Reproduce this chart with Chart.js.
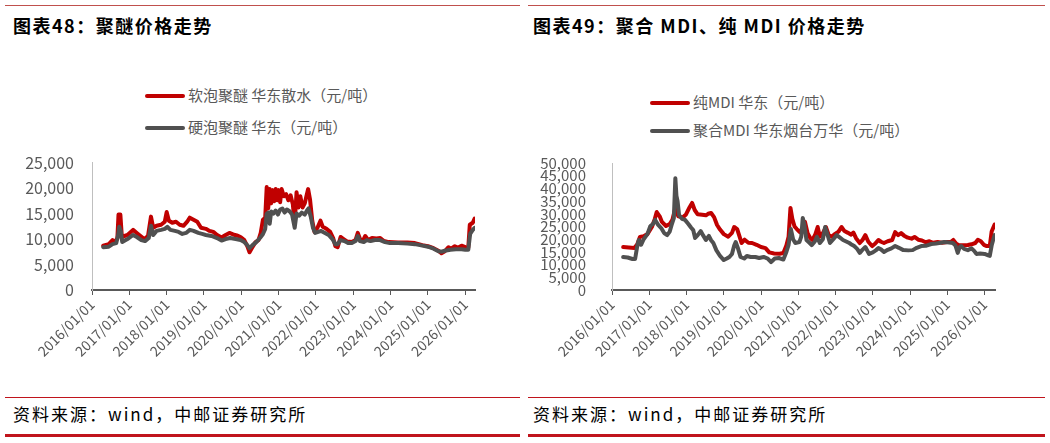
<!DOCTYPE html>
<html>
<head>
<meta charset="utf-8">
<script src="https://cdn.jsdelivr.net/npm/chart.js@4"></script>
<style>
  body { margin: 0; background: #fff; }
  #page { position: relative; width: 1050px; height: 443px; overflow: hidden; font-family: "Noto Sans CJK SC", "Noto Sans", sans-serif; }
  .rule { position: absolute; background: #c0504d; }
  .title { position: absolute; top: 12px; font-size: 18px; letter-spacing: 1.5px; font-weight: bold; color: #000; white-space: nowrap; }
  .source { position: absolute; top: 401px; font-size: 17px; letter-spacing: 2px; color: #000; white-space: nowrap; }
  .legend { position: absolute; font-size: 15px; color: #595959; }
  .legend div { position: absolute; white-space: nowrap; height: 20px; line-height: 20px; }
  .legend span { display: inline-block; width: 40px; height: 4px; border-radius: 2px; vertical-align: middle; margin-right: 3px; position: relative; top: -1px; }
  canvas { position: absolute; }
</style>
</head>
<body>
<div id="page">
  <div class="rule" style="left:5px;top:5px;width:515px;height:1px;"></div>
  <div class="rule" style="left:528px;top:5px;width:517px;height:1px;"></div>
  <div class="title" style="left:13px;">图表48：聚醚价格走势</div>
  <div class="title" style="left:533px;">图表49：聚合 MDI、纯 MDI 价格走势</div>

  <div class="legend" id="legendLeft" style="left:145px;top:0;"></div>
  <div class="legend" id="legendRight" style="left:650px;top:0;"></div>

  <div style="position:absolute;left:0;top:143px;width:500px;height:247px;"><canvas id="polyetherChart"></canvas></div>
  <div style="position:absolute;left:525px;top:136px;width:500px;height:254px;"><canvas id="mdiChart"></canvas></div>

  <div class="rule" style="left:5px;top:397px;width:515px;height:1px;background:#c0141c;"></div>
  <div class="rule" style="left:528px;top:397px;width:517px;height:1px;background:#c0141c;"></div>
  <div class="source" style="left:13px;">资料来源：wind，中邮证券研究所</div>
  <div class="source" style="left:533px;">资料来源：wind，中邮证券研究所</div>
  <div class="rule" style="left:5px;top:434px;width:515px;height:3px;background:#c0141c;"></div>
  <div class="rule" style="left:528px;top:434px;width:517px;height:3px;background:#c0141c;"></div>
</div>

<script>
// 图表48 数据
const polyetherNames = ['软泡聚醚 华东散水（元/吨）', '硬泡聚醚 华东（元/吨）'];
const softDates = [2016.30, 2016.45, 2016.55, 2016.62, 2016.68, 2016.71, 2016.76, 2016.80, 2016.95, 2017.10,
  2017.20, 2017.30, 2017.40, 2017.50, 2017.58, 2017.64, 2017.73, 2017.85, 2017.95, 2018.00,
  2018.06, 2018.15, 2018.25, 2018.35, 2018.45, 2018.55, 2018.62, 2018.72, 2018.82, 2018.92,
  2019.05, 2019.15, 2019.25, 2019.35, 2019.47, 2019.58, 2019.68, 2019.78, 2019.88, 2019.98,
  2020.08, 2020.16, 2020.22, 2020.28, 2020.38, 2020.46, 2020.52, 2020.58, 2020.64, 2020.68,
  2020.72, 2020.76, 2020.80, 2020.84, 2020.88, 2020.92, 2020.96, 2021.00, 2021.04, 2021.08,
  2021.14, 2021.20, 2021.26, 2021.32, 2021.38, 2021.43, 2021.48, 2021.53, 2021.58, 2021.64,
  2021.70, 2021.75, 2021.79, 2021.84, 2021.90, 2021.96, 2022.04, 2022.12, 2022.18, 2022.28,
  2022.38, 2022.46, 2022.52, 2022.58, 2022.66, 2022.74, 2022.84, 2022.96, 2023.06, 2023.12,
  2023.18, 2023.26, 2023.32, 2023.40, 2023.50, 2023.62, 2023.72, 2023.82, 2023.95, 2024.20,
  2024.45, 2024.65, 2024.85, 2025.00, 2025.15, 2025.28, 2025.36, 2025.45, 2025.55, 2025.62,
  2025.72, 2025.80, 2025.90, 2026.00, 2026.08, 2026.12, 2026.20, 2026.25];
const softValues = [8700, 9000, 9800, 9400, 10200, 14800, 14800, 10400, 10800, 11800,
  11200, 10600, 10000, 10600, 14400, 12200, 12600, 12800, 13400, 15300,
  13600, 13200, 13400, 12800, 12600, 13400, 14200, 13800, 13400, 12200,
  12000, 11600, 11400, 10800, 10300, 10800, 11200, 10900, 10700, 10400,
  9800, 8600, 7400, 8200, 9400, 9800, 11200, 13800, 14200, 20200,
  16000, 19800, 17000, 19600, 17400, 19800, 17600, 19600, 17200, 19800,
  18400, 18800, 17600, 18600, 16800, 13000, 19200, 16200, 18400, 16200,
  17000, 18600, 19800, 17800, 13600, 11400, 12200, 13600, 12400, 12000,
  11400, 10200, 8600, 8400, 10400, 10000, 9500, 9400, 9800, 11200,
  10000, 9700, 10600, 9800, 10200, 10100, 10200, 9600, 9400, 9300,
  9300, 9200, 8800, 8600, 8200, 7700, 7200, 7600, 8400, 8100,
  8600, 8300, 8700, 8400, 8300, 12800, 13200, 14000];
const hardDates = [2016.30, 2016.45, 2016.55, 2016.65, 2016.70, 2016.73, 2016.77, 2016.81, 2016.95, 2017.10,
  2017.20, 2017.32, 2017.42, 2017.52, 2017.58, 2017.64, 2017.73, 2017.85, 2017.95, 2018.02,
  2018.10, 2018.22, 2018.32, 2018.42, 2018.52, 2018.62, 2018.72, 2018.85, 2018.95, 2019.05,
  2019.20, 2019.35, 2019.47, 2019.58, 2019.70, 2019.85, 2019.98, 2020.08, 2020.16, 2020.22,
  2020.30, 2020.40, 2020.50, 2020.58, 2020.64, 2020.68, 2020.72, 2020.76, 2020.80, 2020.86,
  2020.92, 2020.98, 2021.04, 2021.10, 2021.16, 2021.22, 2021.30, 2021.36, 2021.43, 2021.48,
  2021.55, 2021.62, 2021.70, 2021.76, 2021.80, 2021.86, 2021.92, 2021.98, 2022.06, 2022.14,
  2022.24, 2022.34, 2022.44, 2022.52, 2022.58, 2022.66, 2022.76, 2022.86, 2022.96, 2023.06,
  2023.12, 2023.18, 2023.28, 2023.36, 2023.46, 2023.58, 2023.72, 2023.85, 2023.98, 2024.20,
  2024.45, 2024.65, 2024.85, 2025.00, 2025.15, 2025.28, 2025.36, 2025.45, 2025.60, 2025.75,
  2025.90, 2026.00, 2026.08, 2026.13, 2026.20, 2026.25];
const hardValues = [8400, 8500, 9000, 9200, 10800, 12400, 11600, 9400, 10000, 10800,
  10400, 9800, 9600, 10200, 12600, 10800, 11600, 11800, 12000, 12400,
  11800, 11600, 11400, 11000, 11200, 11800, 11600, 11200, 11000, 10800,
  10600, 10200, 9700, 10000, 10200, 10000, 9800, 9400, 8800, 8200,
  8800, 9400, 10200, 11000, 12000, 15000, 15200, 13000, 15400, 15000,
  15600, 14800, 15800, 16000, 15200, 15800, 15400, 14800, 12200, 15000,
  14600, 15200, 14800, 15600, 16000, 14400, 12200, 11200, 11400, 11600,
  11200, 10800, 10000, 9000, 9000, 9800, 9600, 9200, 9200, 9600,
  10600, 9600, 9400, 9800, 9600, 9800, 9800, 9400, 9200, 9200,
  9100, 9000, 8700, 8500, 8100, 7600, 7500, 7700, 7900, 8000,
  8000, 7900, 7900, 11000, 11800, 12200];

// 图表49 数据
const mdiNames = ['纯MDI 华东（元/吨）', '聚合MDI 华东烟台万华（元/吨）'];
const pureDates = [2016.30, 2016.45, 2016.60, 2016.68, 2016.75, 2016.85, 2016.95, 2017.07, 2017.15, 2017.20,
  2017.28, 2017.34, 2017.45, 2017.55, 2017.62, 2017.70, 2017.78, 2017.90, 2017.98, 2018.08,
  2018.15, 2018.22, 2018.30, 2018.42, 2018.52, 2018.58, 2018.66, 2018.74, 2018.82, 2018.90,
  2019.00, 2019.12, 2019.22, 2019.28, 2019.36, 2019.42, 2019.48, 2019.56, 2019.66, 2019.76,
  2019.88, 2020.00, 2020.12, 2020.22, 2020.35, 2020.50, 2020.60, 2020.68, 2020.74, 2020.79,
  2020.84, 2020.90, 2020.96, 2021.04, 2021.12, 2021.18, 2021.25, 2021.32, 2021.38, 2021.46,
  2021.52, 2021.58, 2021.66, 2021.74, 2021.82, 2021.90, 2021.98, 2022.08, 2022.16, 2022.24,
  2022.32, 2022.42, 2022.48, 2022.55, 2022.65, 2022.72, 2022.80, 2022.88, 2022.98, 2023.06,
  2023.15, 2023.22, 2023.30, 2023.40, 2023.52, 2023.60, 2023.68, 2023.76, 2023.84, 2023.94,
  2024.04, 2024.12, 2024.22, 2024.32, 2024.42, 2024.52, 2024.62, 2024.74, 2024.86, 2025.00,
  2025.10, 2025.16, 2025.24, 2025.30, 2025.42, 2025.55, 2025.65, 2025.75, 2025.82, 2025.90,
  2025.98, 2026.06, 2026.14, 2026.19, 2026.23, 2026.27];
const pureValues = [16900, 16700, 16500, 18000, 20900, 21200, 22000, 24800, 28000, 30700,
  29000, 26800, 25200, 26000, 27600, 32300, 29000, 28600, 29600, 32500,
  34300, 31500, 29800, 29600, 29400, 30000, 30300, 28700, 25600, 23800,
  22000, 21000, 22500, 24800, 24000, 21200, 18500, 19800, 18600, 18500,
  17800, 16900, 16500, 14800, 14400, 14300, 14600, 17500, 21000, 32300,
  28000, 25000, 24000, 22800, 24500, 26800, 22400, 20500, 19700, 22000,
  24800, 21000, 22400, 24800, 21500, 21000, 22000, 23000, 24800, 23200,
  22600, 21800, 22600, 20400, 18500, 19600, 21600, 19000, 17300, 18200,
  19700, 19000, 18500, 19200, 19700, 22800, 21600, 22400, 21400, 20600,
  20200, 20900, 19800, 19500, 18800, 19200, 18600, 18900, 18600, 18900,
  19000, 19700, 18200, 17700, 17600, 17700, 18000, 18500, 19800, 19200,
  17800, 17300, 17300, 23000, 24400, 25800];
const polyDates = [2016.30, 2016.42, 2016.55, 2016.62, 2016.68, 2016.72, 2016.78, 2016.85, 2016.95, 2017.03,
  2017.10, 2017.16, 2017.24, 2017.32, 2017.40, 2017.48, 2017.55, 2017.60, 2017.66, 2017.70,
  2017.73, 2017.76, 2017.80, 2017.88, 2017.96, 2018.05, 2018.12, 2018.18, 2018.23, 2018.30,
  2018.38, 2018.45, 2018.52, 2018.60, 2018.66, 2018.72, 2018.80, 2018.90, 2019.00, 2019.08,
  2019.15, 2019.22, 2019.28, 2019.32, 2019.38, 2019.45, 2019.55, 2019.62, 2019.72, 2019.85,
  2019.95, 2020.07, 2020.18, 2020.27, 2020.37, 2020.48, 2020.60, 2020.68, 2020.74, 2020.80,
  2020.86, 2020.92, 2021.03, 2021.08, 2021.12, 2021.16, 2021.22, 2021.30, 2021.36, 2021.44,
  2021.50, 2021.58, 2021.66, 2021.72, 2021.78, 2021.85, 2021.94, 2022.03, 2022.12, 2022.20,
  2022.30, 2022.37, 2022.44, 2022.50, 2022.58, 2022.65, 2022.72, 2022.80, 2022.90, 2023.00,
  2023.08, 2023.15, 2023.22, 2023.30, 2023.40, 2023.50, 2023.60, 2023.70, 2023.82, 2023.95,
  2024.07, 2024.18, 2024.30, 2024.42, 2024.57, 2024.70, 2024.82, 2024.92, 2025.05, 2025.15,
  2025.22, 2025.28, 2025.33, 2025.37, 2025.45, 2025.55, 2025.65, 2025.72, 2025.78, 2025.88,
  2026.00, 2026.10, 2026.14, 2026.19, 2026.23, 2026.27];
const polyValues = [13000, 12800, 12200, 12200, 17500, 19700, 17800, 20000, 22000, 25200,
  26000, 27600, 25600, 24400, 22400, 21600, 23000, 25600, 28300, 44000,
  37000, 35000, 29500, 28000, 27600, 26000, 24600, 23600, 20500, 21600,
  23200, 21400, 19700, 21300, 19600, 18500, 15700, 13400, 11800, 12400,
  13000, 14200, 17500, 18900, 16500, 13000, 12400, 13400, 13000, 13000,
  12600, 13000, 12400, 11000, 12400, 12600, 12000, 15000, 17800, 24000,
  20000, 18500, 18900, 21000, 28300, 26000, 19700, 18600, 17700, 19000,
  20900, 18500, 20000, 24800, 22000, 18500, 20000, 21600, 20600, 19700,
  19000, 18500, 17800, 17300, 16200, 14600, 15800, 16900, 14200, 14800,
  15600, 16500, 16000, 15000, 15800, 16400, 17300, 16600, 15700, 15600,
  15700, 16600, 17300, 17400, 18100, 18300, 18600, 18900, 18700, 18500,
  17500, 14600, 16800, 17300, 16200, 15700, 16400, 15400, 14200, 14400,
  14200, 13600, 13400, 17500, 19700, 21600];

const yearTicks = [2016, 2017, 2018, 2019, 2020, 2021, 2022, 2023, 2024, 2025, 2026];
const seriesColors = ['#c00000', '#505050'];

Chart.defaults.font.family = '"Noto Sans CJK SC", "Noto Sans", sans-serif';
Chart.defaults.color = '#595959';

function toPoints(dates, values) {
  return dates.map((d, i) => ({ x: d, y: values[i] }));
}

function makeLegend(id, names, rowTops) {
  const box = document.getElementById(id);
  names.forEach((name, i) => {
    const row = document.createElement('div');
    row.style.top = rowTops[i] + 'px';
    row.innerHTML = '<span style="background:' + seriesColors[i] + '"></span>' + name;
    box.appendChild(row);
  });
}

function lineSet(label, points, i) {
  return {
    label: label,
    data: points,
    borderColor: seriesColors[i],
    borderWidth: 4,
    pointRadius: 0,
    tension: 0,
    borderJoinStyle: 'round',
    borderCapStyle: 'round',
    order: i === 0 ? 1 : 0
  };
}

function makeOptions(xMax, yMax, yWidth, yPad, yFontSize, rightPad) {
  return {
    responsive: true,
    maintainAspectRatio: false,
    animation: false,
    layout: { padding: { top: 0, right: rightPad, left: 0, bottom: 0 } },
    plugins: { legend: { display: false }, tooltip: { enabled: false } },
    scales: {
      x: {
        type: 'linear',
        min: 2016,
        max: xMax,
        afterBuildTicks: scale => { scale.ticks = yearTicks.map(v => ({ value: v })); },
        afterFit: scale => { scale.height = 100; },
        grid: { drawOnChartArea: false, drawTicks: true, tickLength: 5, color: '#595959', lineWidth: 1 },
        border: { color: '#595959', width: 2 },
        ticks: {
          autoSkip: false,
          maxRotation: 45,
          minRotation: 45,
          padding: 1,
          font: { size: 14 },
          callback: v => v + '/01/01'
        }
      },
      y: {
        min: 0,
        max: yMax,
        afterFit: scale => { scale.width = yWidth; },
        grid: { display: false },
        border: { color: '#bfbfbf', width: 1 },
        ticks: {
          stepSize: 5000,
          autoSkip: false,
          padding: yPad,
          font: { size: yFontSize },
          callback: v => v.toLocaleString('en-US')
        }
      }
    }
  };
}

// 聚醚价格走势
function createPolyetherChart() {
  const ctx = document.getElementById('polyetherChart').getContext('2d');
  new Chart(ctx, {
    type: 'line',
    data: {
      datasets: [
        lineSet(polyetherNames[0], toPoints(softDates, softValues), 0),
        lineSet(polyetherNames[1], toPoints(hardDates, hardValues), 1)
      ]
    },
    options: makeOptions(2026.26, 25000, 92, 10, 16, 25)
  });
  makeLegend('legendLeft', polyetherNames, [85, 117]);
}

// 聚合MDI、纯MDI价格走势
function createMdiChart() {
  const ctx = document.getElementById('mdiChart').getContext('2d');
  new Chart(ctx, {
    type: 'line',
    data: {
      datasets: [
        lineSet(mdiNames[0], toPoints(pureDates, pureValues), 0),
        lineSet(mdiNames[1], toPoints(polyDates, polyValues), 1)
      ]
    },
    options: makeOptions(2026.28, 50000, 87, 18, 15, 30)
  });
  makeLegend('legendRight', mdiNames, [92, 120]);
}

window.onload = function() {
  createPolyetherChart();
  createMdiChart();
};
</script>
</body>
</html>
